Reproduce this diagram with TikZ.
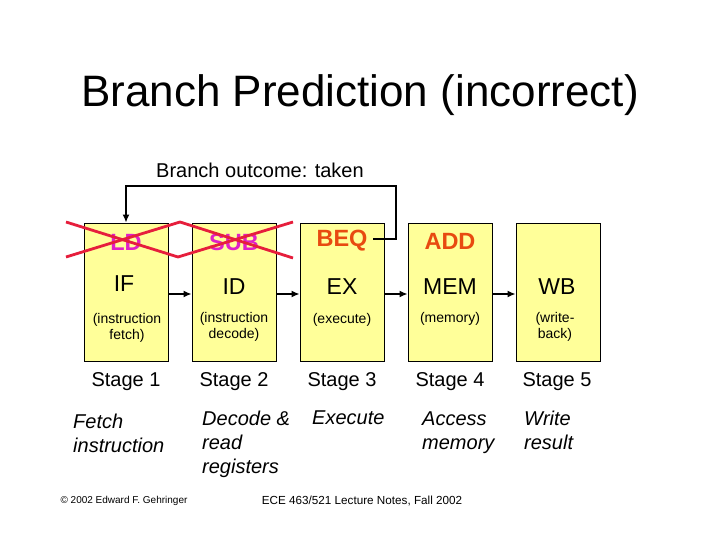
\documentclass[tikz,border=0pt]{standalone}
\usepackage{fontspec}
\setmainfont{Liberation Sans}
\usetikzlibrary{arrows.meta}
\definecolor{boxfill}{RGB}{255,255,153}
\definecolor{magentatxt}{RGB}{224,32,200}
\definecolor{orangetxt}{RGB}{232,74,16}
\definecolor{crossred}{RGB}{230,30,60}
\tikzset{
  stagebox/.style={draw=black, line width=0.8pt, fill=boxfill, minimum width=84pt, minimum height=138pt, inner sep=0pt},
  instr/.style={font=\fontsize{23.5}{25}\selectfont\bfseries, inner sep=0pt},
  stname/.style={font=\fontsize{23}{25}\selectfont, inner sep=0pt},
  sub/.style={font=\fontsize{14}{16.5}\selectfont, align=center, inner sep=0pt},
  stagelbl/.style={font=\fontsize{20}{24}\selectfont, inner sep=0pt},
  desc/.style={font=\fontsize{20}{24}\selectfont\itshape, align=left, anchor=north west, inner sep=0pt},
  flow/.style={line width=1.8pt, -{Latex[length=8pt,width=7pt]}},
  cross/.style={draw=crossred, line width=2.8pt},
}
\begin{document}
\begin{tikzpicture}[x=1pt,y=-1pt]
\useasboundingbox (0,0) rectangle (720,540);
\fill[white] (0,0) rectangle (720,540);

% title
\node[font=\fontsize{44}{48}\selectfont, inner sep=0pt] (title) at (360,95) {Branch Prediction (incorrect)};
\node[font=\fontsize{20}{24}\selectfont, inner sep=0pt] (outcome) at (260,170) {Branch outcome: taken};

% boxes
\node[stagebox] (box1) at (126,292) {};
\node[stagebox] (box2) at (234,292) {};
\node[stagebox] (box3) at (342,292) {};
\node[stagebox] (box4) at (450,292) {};
\node[stagebox] (box5) at (558,292) {};

% instructions
\node[instr, text=magentatxt] (ld) at (126,242) {LD};
\node[instr, text=magentatxt] (sub) at (234,242) {SUB};
\node[instr, text=orangetxt] (beq) at (342,241) {BEQ};
\node[instr, text=orangetxt] (add) at (450,241) {ADD};

% stage names
\node[stname] (if) at (124,284) {IF};
\node[stname] (id) at (234,287) {ID};
\node[stname] (ex) at (342,287) {EX};
\node[stname] (mem) at (450,287) {MEM};
\node[stname] (wb) at (557,287) {WB};

% sub texts
\node[sub] (s1) at (127,328) {(instruction\\fetch)};
\node[sub] (s2) at (234,327) {(instruction\\decode)};
\node[sub] (s3) at (342,320) {(execute)};
\node[sub] (s4) at (450,319) {(memory)};
\node[sub] (s5) at (555,327) {(write-\\back)};

% arrows between stages
\draw[flow] (box1.east |- 0,294) -- (box2.west |- 0,294);
\draw[flow] (box2.east |- 0,294) -- (box3.west |- 0,294);
\draw[flow] (box3.east |- 0,294) -- (box4.west |- 0,294);
\draw[flow] (box4.east |- 0,294) -- (box5.west |- 0,294);

% feedback
\coordinate (fbc) at (396,186);
\coordinate (fbs) at (373,239);
\draw[flow] (fbs) -- (fbs -| fbc) -- (fbc) -| (box1.north);

% red crosses
\coordinate (xa) at (66,222);
\coordinate (xb) at (66,257);
\coordinate (xc) at (180,222);
\coordinate (xd) at (178,257);
\coordinate (xe) at (293,222);
\coordinate (xf) at (293,258);
\draw[cross] (xa) -- (xd) -- (xe);
\draw[cross] (xb) -- (xc) -- (xf);

% stage labels
\node[stagelbl] (st1) at (126,382) {Stage 1};
\node[stagelbl] (st2) at (234,382) {Stage 2};
\node[stagelbl] (st3) at (342,382) {Stage 3};
\node[stagelbl] (st4) at (450,382) {Stage 4};
\node[stagelbl] (st5) at (557,382) {Stage 5};

% descriptions
\node[desc] (d1) at (73,414) {Fetch\\instruction};
\node[desc] (d2) at (202,411) {Decode \&\\read\\registers};
\node[desc] (d3) at (312,411) {Execute};
\node[desc] (d4) at (422,412) {Access\\memory};
\node[desc] (d5) at (524,411) {Write\\result};

% footer
\node[font=\fontsize{10}{12}\selectfont, inner sep=0pt] (copy) at (124,501) {© 2002 Edward F. Gehringer};
\node[font=\fontsize{11.7}{14}\selectfont, inner sep=0pt] (course) at (362,501) {ECE 463/521 Lecture Notes, Fall 2002};
\end{tikzpicture}
\end{document}
